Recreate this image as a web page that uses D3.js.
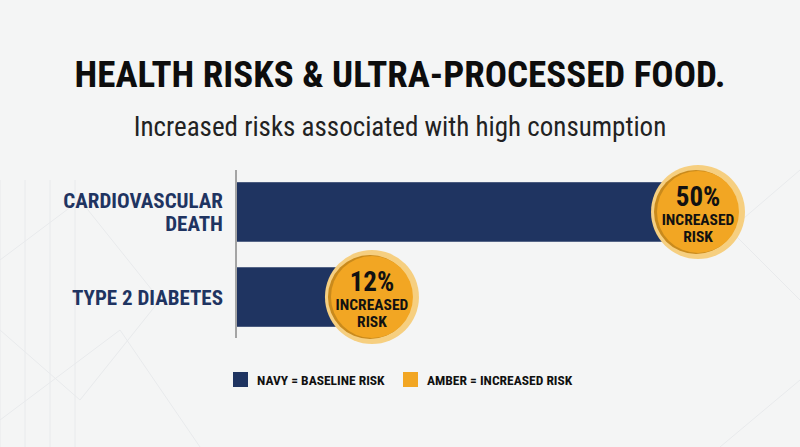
<!DOCTYPE html>
<html><head><meta charset="utf-8">
<script src="https://cdn.jsdelivr.net/npm/d3@7"></script>
<style>body{margin:0;background:#f4f5f5}svg text{font-family:"Liberation Sans Narrow","Roboto Condensed",Roboto,sans-serif}</style>
</head><body><svg id="c" width="800" height="447"></svg>
<script>
var categories = [["CARDIOVASCULAR", "DEATH"], ["TYPE 2 DIABETES"]];
var values = [50, 12];
var badgeLines = ["INCREASED", "RISK"];
var legendItems = ["NAVY = BASELINE RISK", "AMBER = INCREASED RISK"];

var navy = "#1f3461", amber = "#f2a623";
var svg = d3.select("#c");
svg.append("rect").attr("width", 800).attr("height", 447).attr("fill", "#f4f5f5");

// faint background lattice
var bg = svg.append("g").attr("stroke", "#e8eaec").attr("stroke-width", 1).attr("fill", "none");
[0, 25, 50, 75].forEach(function(x){ bg.append("line").attr("x1", x).attr("x2", x).attr("y1", 180).attr("y2", 447); });
bg.append("path").attr("d", "M0,260 L80,200 L160,300 L80,400 L0,330 M0,420 L120,330 L200,447");
bg.append("path").attr("d", "M800,170 L730,230 L800,300 M720,447 L800,380");

svg.append("text").attr("x", 400).attr("y", 87).attr("text-anchor", "middle")
  .attr("font-size", 37).attr("font-weight", "bold").attr("fill", "#0d0d0d")
  .text("HEALTH RISKS & ULTRA-PROCESSED FOOD.");
svg.append("text").attr("x", 400).attr("y", 136).attr("text-anchor", "middle")
  .attr("font-size", 27).attr("fill", "#222")
  .text("Increased risks associated with high consumption");

var x = d3.scaleLinear().domain([0, 50]).range([236, 665]);
var y = d3.scaleBand().domain(d3.range(values.length)).range([172, 337]).paddingInner(0.3).paddingOuter(0.12);

svg.append("line").attr("x1", 236).attr("x2", 236).attr("y1", 170).attr("y2", 338)
  .attr("stroke", "#555").attr("stroke-width", 1);

svg.selectAll(".bar").data(values).join("rect")
  .attr("x", x(0) + 1).attr("y", function(d, i){ return y(i); })
  .attr("width", function(d){ return x(d) - x(0); }).attr("height", y.bandwidth())
  .attr("fill", navy);

categories.forEach(function(lines, i){
  var cy = y(i) + y.bandwidth() / 2;
  lines.forEach(function(l, j){
    svg.append("text").attr("x", 223).attr("y", cy + 8 + (j - (lines.length - 1) / 2) * 23)
      .attr("text-anchor", "end").attr("font-size", 21).attr("font-weight", "bold")
      .attr("fill", navy).text(l);
  });
});

values.forEach(function(v, i){
  var cx = x(v) + 33, cy = y(i) + y.bandwidth() / 2;
  var g = svg.append("g");
  g.append("circle").attr("cx", cx).attr("cy", cy).attr("r", 47).attr("fill", "#f6cf80");
  g.append("circle").attr("cx", cx - 2).attr("cy", cy).attr("r", 42).attr("fill", "#c98a1c");
  g.append("circle").attr("cx", cx).attr("cy", cy).attr("r", 41).attr("fill", amber);
  g.append("text").attr("x", cx).attr("y", cy - 6).attr("text-anchor", "middle")
    .attr("font-size", 27).attr("font-weight", "bold").attr("fill", "#111").text(v + "%");
  badgeLines.forEach(function(l, j){
    g.append("text").attr("x", cx).attr("y", cy + 13 + j * 17).attr("text-anchor", "middle")
      .attr("font-size", 15.5).attr("font-weight", "bold").attr("fill", "#111").text(l);
  });
});

var lx = [233, 403], lc = [navy, amber];
legendItems.forEach(function(t, i){
  svg.append("rect").attr("x", lx[i]).attr("y", 372).attr("width", 15).attr("height", 15).attr("fill", lc[i]);
  svg.append("text").attr("x", lx[i] + 24).attr("y", 385).attr("font-size", 13.5)
    .attr("font-weight", "bold").attr("fill", "#111").text(t);
});
</script></body></html>
